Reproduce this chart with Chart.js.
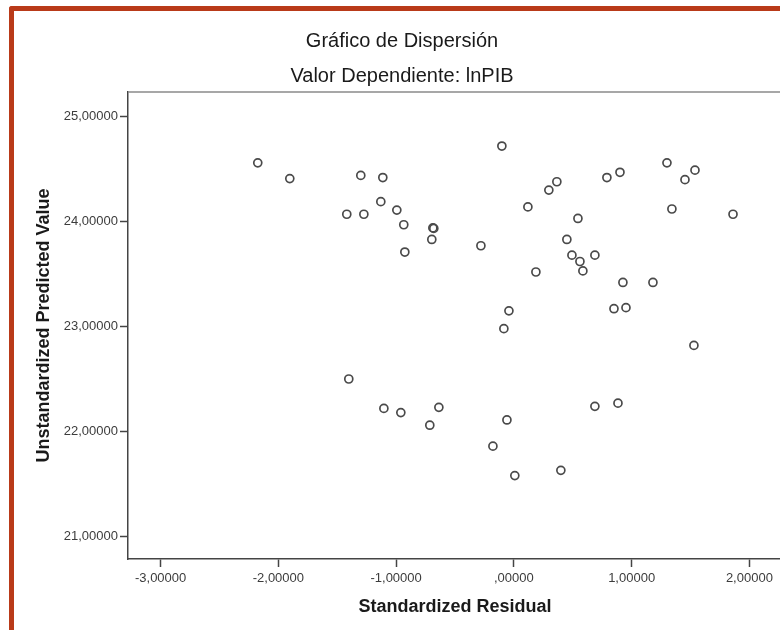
<!DOCTYPE html>
<html>
<head>
<meta charset="utf-8">
<title>Gráfico de Dispersión</title>
<script src="https://cdn.jsdelivr.net/npm/chart.js@4/dist/chart.umd.min.js"></script>
<style>
  html, body { margin: 0; padding: 0; background: #fff; overflow: hidden; width: 780px; height: 630px; }
  #frame { position: absolute; left: 9px; top: 6px; width: 800px; height: 700px;
           border-top: 5px solid #b93a19; border-left: 5px solid #b93a19; border-top-left-radius: 3px; }
  #wrap { position: absolute; left: 22px; top: 0; width: 760px; height: 630px; }
</style>
</head>
<body>
<div id="frame"></div>
<div id="wrap"><canvas id="myChart"></canvas></div>
<script>
// Standardized residual (x) vs unstandardized predicted value (y)
var residuals = [-2.175, -1.903, -1.300, -1.113, -0.102, -1.419, -1.274, -1.130, -0.994, -0.935,
                 -0.688, -0.680, -0.697, -0.926, -0.280, 0.119, 0.297, 0.365, 0.790, 0.901,
                 1.300, 1.538, 1.453, 1.342, 1.861, 0.544, 0.450, 0.493, 0.688, 0.561,
                 0.586, 0.187, 0.926, 1.181, -0.042, -0.085, 0.850, 0.952, 1.529, -1.402,
                 -1.104, -0.960, -0.637, -0.714, -0.059, -0.178, 0.008, 0.399, 0.688, 0.884];
var predicted = [24.56, 24.41, 24.44, 24.42, 24.72, 24.07, 24.07, 24.19, 24.11, 23.97,
                 23.94, 23.935, 23.83, 23.71, 23.77, 24.14, 24.30, 24.38, 24.42, 24.47,
                 24.56, 24.49, 24.40, 24.12, 24.07, 24.03, 23.83, 23.68, 23.68, 23.62,
                 23.53, 23.52, 23.42, 23.42, 23.15, 22.98, 23.17, 23.18, 22.82, 22.50,
                 22.22, 22.18, 22.23, 22.06, 22.11, 21.86, 21.58, 21.63, 22.24, 22.27];
var xTicks = [-3, -2, -1, 0, 1, 2];
var yTicks = [21, 22, 23, 24, 25];

var points = residuals.map(function (r, i) { return { x: r, y: predicted[i] }; });

// SPSS style number: 1,00000  ,00000  -2,00000
function spss(v) {
    var s = Math.abs(v).toFixed(5).replace('.', ',');
    if (s.charAt(0) === '0') s = s.slice(1);
    return (v < 0 ? '-' : '') + s;
}

var font = "'Liberation Sans', Arial, sans-serif";

// draws the top edge of the plot frame
var plotFrame = {
    id: 'plotFrame',
    beforeDatasetsDraw: function (chart) {
        var a = chart.chartArea, c = chart.ctx;
        c.save();
        c.strokeStyle = '#8a8a8a';
        c.lineWidth = 1.5;
        c.beginPath();
        c.moveTo(a.left, a.top);
        c.lineTo(a.right, a.top);
        c.stroke();
        c.restore();
    }
};

var ctx = document.getElementById('myChart').getContext('2d');
var chart = new Chart(ctx, {
    type: 'scatter',
    data: {
        datasets: [{
            data: points,
            pointStyle: 'circle',
            pointRadius: 4,
            pointHoverRadius: 4,
            borderColor: '#4a4a4a',
            borderWidth: 1.7,
            backgroundColor: 'rgba(0,0,0,0)'
        }]
    },
    plugins: [plotFrame],
    options: {
        responsive: true,
        maintainAspectRatio: false,
        animation: false,
        layout: { padding: 0, autoPadding: false },
        plugins: {
            legend: { display: false },
            tooltip: { enabled: false },
            title: {
                display: true,
                text: 'Gráfico de Dispersión',
                color: '#1a1a1a',
                font: { family: font, size: 20, weight: 'normal' },
                padding: { top: 29, bottom: 0 }
            },
            subtitle: {
                display: true,
                text: 'Valor Dependiente: lnPIB',
                color: '#1a1a1a',
                font: { family: font, size: 20, weight: 'normal' },
                padding: { top: 11, bottom: 4 }
            }
        },
        scales: {
            x: {
                type: 'linear',
                min: -3.277,
                max: 2.277,
                afterFit: function (s) { s.height = 71; },
                afterBuildTicks: function (s) { s.ticks = xTicks.map(function (v) { return { value: v }; }); },
                grid: { drawOnChartArea: false, drawTicks: true, tickLength: 8, tickColor: '#444', tickWidth: 1.5 },
                border: { display: true, color: '#444', width: 1.5 },
                ticks: {
                    color: '#3c3c3c',
                    padding: 4,
                    maxRotation: 0,
                    font: { family: font, size: 13 },
                    callback: function (v) { return spss(v); }
                },
                title: {
                    display: true,
                    text: 'Standardized Residual',
                    color: '#1a1a1a',
                    font: { family: font, size: 18, weight: 'bold' },
                    padding: { top: 0, bottom: 12 }
                }
            },
            y: {
                type: 'linear',
                min: 20.785,
                max: 25.235,
                afterFit: function (s) { s.width = 106; },
                afterBuildTicks: function (s) { s.ticks = yTicks.map(function (v) { return { value: v }; }); },
                grid: { drawOnChartArea: false, drawTicks: true, tickLength: 8, tickColor: '#444', tickWidth: 1.5 },
                border: { display: true, color: '#444', width: 1.5 },
                ticks: {
                    color: '#3c3c3c',
                    padding: 2,
                    font: { family: font, size: 13 },
                    callback: function (v) { return spss(v); }
                },
                title: {
                    display: true,
                    text: 'Unstandardized Predicted Value',
                    color: '#1a1a1a',
                    font: { family: font, size: 18, weight: 'bold' },
                    padding: { top: 11, bottom: 0 }
                }
            }
        }
    }
});
</script>
</body>
</html>
